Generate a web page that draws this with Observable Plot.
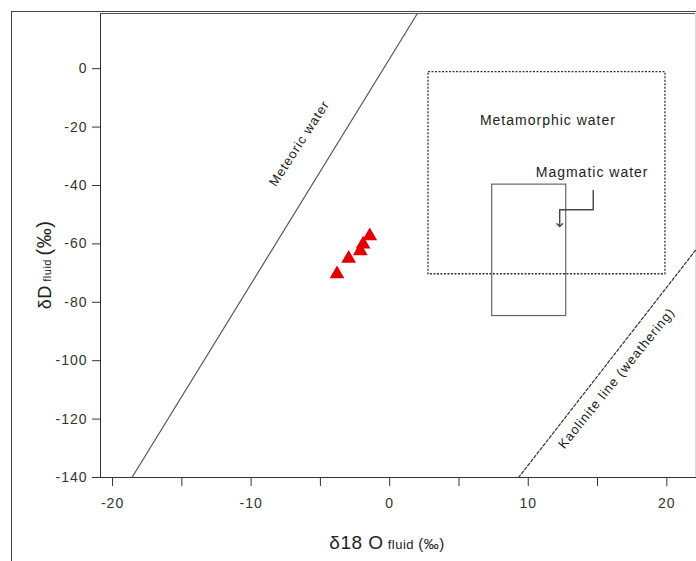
<!DOCTYPE html>
<html><head><meta charset="utf-8">
<script src="https://cdn.jsdelivr.net/npm/d3@7"></script>
<script src="https://cdn.jsdelivr.net/npm/@observablehq/plot@0.6"></script>
<style>
html,body{margin:0;padding:0;background:#fff;}
#wrap{position:relative;width:696px;height:561px;overflow:hidden;background:#fff;}
#frame{position:absolute;left:11px;top:11px;width:800px;height:700px;border-left:1.5px solid #444;border-top:1.5px solid #444;pointer-events:none;}
#chart{position:absolute;left:0;top:0;}
#chart svg text{letter-spacing:1px;}
</style></head><body>
<div id="wrap"><div id="chart"></div><div id="frame"></div></div>
<script>
// axes
const xDomain = [-20.87, 22.07];
const yDomain = [-140, 18.9];
const xTicks = [-20, -15, -10, -5, 0, 5, 10, 15, 20];
const xTickLabels = ["-20", "", "-10", "", "0", "", "10", "", "20"];
const yTicks = [0, -20, -40, -60, -80, -100, -120, -140];
const yTickLabels = ["0", "-20", "-40", "-60", "-80", "-100", "-120", "-140"];

// samples (δ18O fluid, δD fluid)
const sampleO = [-3.80, -2.96, -2.12, -1.92, -1.44];
const sampleD = [-70.3, -65.0, -62.4, -60.1, -57.3];

// reference lines
const meteoricO = [-18.6, 2.0];
const meteoricD = [-140, 18.9];
const kaoliniteO = [9.3, 22.07];
const kaoliniteD = [-140, -62.2];

// fields
const metamorphicO = [2.8, 19.9];
const metamorphicD = [-70.4, -1.2];
const magmaticO = [7.4, 12.74];
const magmaticD = [-84.7, -39.7];

// arrow from "Magmatic water" label into the box
const arrowO = [14.69, 14.69, 12.27, 12.27];
const arrowD = [-41.7, -48.3, -48.3, -53.6];

// annotations
const labelText = ["Meteoric water", "Metamorphic water", "Magmatic water", "Kaolinite line (weathering)"];
const labelO = [-6.52, 11.42, 14.61, 16.37];
const labelD = [-25.6, -17.7, -35.4, -106.0];

const samples = sampleO.map((o, i) => ({o, d: sampleD[i]}));
const meteoric = meteoricO.map((o, i) => ({o, d: meteoricD[i]}));
const kaolinite = kaoliniteO.map((o, i) => ({o, d: kaoliniteD[i]}));
const arrow = arrowO.map((o, i) => ({o, d: arrowD[i]}));
const labels = labelText.map((t, i) => ({t, o: labelO[i], d: labelD[i]}));

const plot = Plot.plot({
  width: 696, height: 561,
  marginLeft: 100, marginRight: 1, marginTop: 13, marginBottom: 84,
  style: {fontFamily: "'Liberation Sans', Arial, sans-serif", fontSize: "14px", color: "#333", background: "transparent", overflow: "visible"},
  x: {domain: xDomain, ticks: xTicks, tickFormat: d => xTickLabels[xTicks.indexOf(d)], tickSize: 9, tickPadding: 12, line: true, label: null},
  y: {domain: yDomain, ticks: yTicks, tickFormat: d => yTickLabels[yTicks.indexOf(d)], tickSize: 8, tickPadding: 5, line: true, label: null},
  marks: [
    Plot.ruleY([yDomain[1]], {stroke: "#555", strokeWidth: 1.2}),
    Plot.ruleX([xDomain[1]], {stroke: "#ddd"}),
    Plot.rect([{}], {x1: metamorphicO[0], x2: metamorphicO[1], y1: metamorphicD[0], y2: metamorphicD[1], fill: "none", stroke: "#333", strokeWidth: 1.3, strokeDasharray: "2,1.5"}),
    Plot.rect([{}], {x1: magmaticO[0], x2: magmaticO[1], y1: magmaticD[0], y2: magmaticD[1], fill: "none", stroke: "#666", strokeWidth: 1.2}),
    Plot.line(meteoric, {x: "o", y: "d", stroke: "#555", strokeWidth: 1.2}),
    Plot.line(kaolinite, {x: "o", y: "d", stroke: "#333", strokeWidth: 1.2, strokeDasharray: "3,2"}),
    Plot.line(arrow, {x: "o", y: "d", stroke: "#444", strokeWidth: 1.4, markerEnd: "arrow"}),
    Plot.text([labels[0]], {x: "o", y: "d", text: "t", rotate: -57, fontSize: 13, fill: "#222"}),
    Plot.text([labels[1]], {x: "o", y: "d", text: "t", fontSize: 14, fill: "#222"}),
    Plot.text([labels[2]], {x: "o", y: "d", text: "t", fontSize: 14, fill: "#222"}),
    Plot.text([labels[3]], {x: "o", y: "d", text: "t", rotate: -51, fontSize: 13, fill: "#222"}),
    Plot.dot(samples, {x: "o", y: "d", symbol: "triangle", r: 5.5, fill: "#e00000", stroke: "none"})
  ]
});
document.getElementById("chart").appendChild(plot);

const svg = d3.select(plot);
// y axis title
const yl = svg.append("text")
  .attr("transform", "translate(51,265) rotate(-90)")
  .attr("text-anchor", "middle").attr("fill", "#222")
  .style("letter-spacing", "0.5px");
yl.append("tspan").attr("font-size", 18).text("δD");
yl.append("tspan").attr("font-size", 11).text(" fluid ");
yl.append("tspan").attr("font-size", 20).text("(‰)");
// x axis title
const xl = svg.append("text")
  .attr("x", 387).attr("y", 549)
  .attr("text-anchor", "middle").attr("fill", "#222")
  .style("letter-spacing", "0.5px");
xl.append("tspan").attr("font-size", 19).text("δ18 O");
xl.append("tspan").attr("font-size", 13).text(" fluid ");
xl.append("tspan").attr("font-size", 15).text("(‰)");
</script>
</body></html>
